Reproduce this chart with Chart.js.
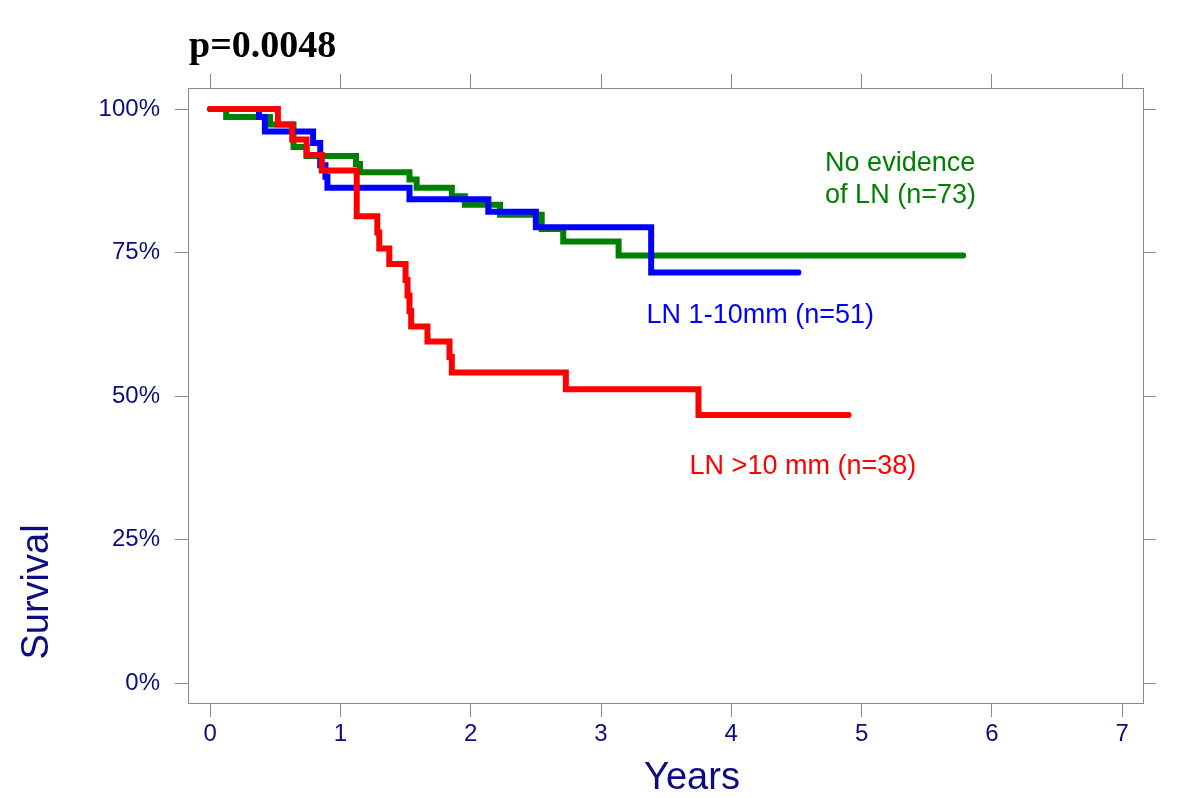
<!DOCTYPE html>
<html>
<head>
<meta charset="utf-8">
<script src="https://cdn.jsdelivr.net/npm/chart.js@4"></script>
<style>
body{margin:0;background:#fff;}
canvas{display:block;}
</style>
</head>
<body>
<canvas id="chart" width="1200" height="798"></canvas>
<script>
// ===== data =====
// time in years, survival in %
let greenTime = [0, 0.123, 0.46, 0.64, 0.74, 1.12, 1.15, 1.53, 1.585, 1.855, 1.955, 2.225, 2.545, 2.71, 3.135, 5.78];
let greenSurv = [100, 98.6, 97.3, 93.4, 91.8, 90.4, 89.0, 87.7, 86.3, 84.8, 83.3, 81.6, 79.1, 76.9, 74.5, 74.5];

let blueTime = [0, 0.375, 0.42, 0.79, 0.845, 0.885, 0.9, 1.53, 2.135, 2.5, 3.385, 4.515];
let blueSurv = [100, 98.6, 96.1, 94.1, 90.2, 88.2, 86.3, 84.3, 82.1, 79.4, 71.5, 71.5];

let redTime = [0, 0.52, 0.63, 0.74, 0.857, 1.125, 1.283, 1.298, 1.375, 1.5, 1.515, 1.53, 1.543, 1.668, 1.837, 1.855, 2.73, 3.748, 4.90];
let redSurv = [100, 97.3, 94.7, 92.0, 89.3, 81.3, 78.5, 75.7, 73.0, 70.2, 67.5, 64.8, 62.1, 59.5, 56.8, 54.1, 51.2, 46.7, 46.7];

let xTicks = [0, 1, 2, 3, 4, 5, 6, 7];
let yTicks = [0, 25, 50, 75, 100];

let groupNames = ["LN >10 mm (n=38)", "LN 1-10mm (n=51)", "No evidence of LN (n=73)"];

// ===== styles =====
let navy = "#0c0c80";
let gray = "#8a8a8a";
let cGreen = "#008000";
let cBlue = "#0000ff";
let cRed = "#ff0000";

function pts(t, s){
  return t.map((v, i) => ({x: v, y: s[i]}));
}

// text labels for the curves, placed in data units
let curveLabels = [
  {lines: ["No evidence", "of LN (n=73)"], x: 4.72, y: [89.2, 83.6], color: cGreen},
  {lines: ["LN 1-10mm (n=51)"], x: 3.35, y: [62.7], color: cBlue},
  {lines: ["LN >10 mm (n=38)"], x: 3.68, y: [36.4], color: cRed}
];

let textPlugin = {
  id: "texts",
  afterDraw(chart){
    let ctx = chart.ctx;
    let xs = chart.scales.x, ys = chart.scales.y;
    ctx.save();
    // p value
    ctx.fillStyle = "#000";
    ctx.font = "bold 38px 'Liberation Serif'";
    ctx.textAlign = "left";
    ctx.textBaseline = "alphabetic";
    ctx.fillText("p=0.0048", chart.chartArea.left + 1, 57);

    // curve names
    ctx.font = "27px 'Liberation Sans'";
    curveLabels.forEach(l => {
      ctx.fillStyle = l.color;
      l.lines.forEach((txt, i) => {
        ctx.fillText(txt, xs.getPixelForValue(l.x), ys.getPixelForValue(l.y[i]));
      });
    });

    // axis titles
    ctx.fillStyle = navy;
    ctx.font = "38px 'Liberation Sans'";
    ctx.textAlign = "center";
    ctx.fillText("Years", 692, 789);

    ctx.translate(48, 592);
    ctx.rotate(-Math.PI / 2);
    ctx.fillText("Survival", 0, 0);
    ctx.restore();
  }
};

function axisX(pos, showLabels, h){
  return {
    type: "linear", position: pos,
    min: -0.17, max: 7.16,
    afterBuildTicks: s => { s.ticks = xTicks.map(v => ({value: v})); },
    afterFit: s => { s.height = h; },
    grid: {drawOnChartArea: false, drawTicks: true, tickLength: 14, tickColor: gray, tickWidth: 1},
    border: {display: true, color: gray, width: 1},
    ticks: {display: showLabels, color: navy, font: {family: "Liberation Sans", size: 24}, padding: 3, maxRotation: 0, autoSkip: false}
  };
}

function axisY(pos, showLabels, w){
  return {
    type: "linear", position: pos,
    min: -3.48, max: 103.66,
    afterBuildTicks: s => { s.ticks = yTicks.map(v => ({value: v})); },
    afterFit: s => { s.width = w; },
    grid: {drawOnChartArea: false, drawTicks: true, tickLength: 13, tickColor: gray, tickWidth: 1},
    border: {display: true, color: gray, width: 1},
    ticks: {display: showLabels, color: navy, font: {family: "Liberation Sans", size: 24}, padding: 15, autoSkip: false,
      callback: v => v + "%"}
  };
}

let common = {stepped: "before", pointRadius: 0, borderWidth: 6, fill: false,
  borderCapStyle: "round", borderJoinStyle: "miter", tension: 0};

// first dataset is drawn on top
let chart = new Chart(document.getElementById("chart").getContext("2d"), {
  type: "line",
  data: {
    datasets: [
      Object.assign({label: groupNames[0], data: pts(redTime, redSurv), borderColor: cRed}, common),
      Object.assign({label: groupNames[1], data: pts(blueTime, blueSurv), borderColor: cBlue}, common),
      Object.assign({label: groupNames[2], data: pts(greenTime, greenSurv), borderColor: cGreen}, common)
    ]
  },
  options: {
    responsive: false,
    animation: false,
    layout: {padding: 0},
    plugins: {legend: {display: false}, tooltip: {enabled: false}, title: {display: false}},
    scales: {
      x: axisX("bottom", true, 95),
      x2: axisX("top", false, 88),
      y: axisY("left", true, 188),
      y2: axisY("right", false, 57)
    }
  },
  plugins: [textPlugin]
});
</script>
</body>
</html>
